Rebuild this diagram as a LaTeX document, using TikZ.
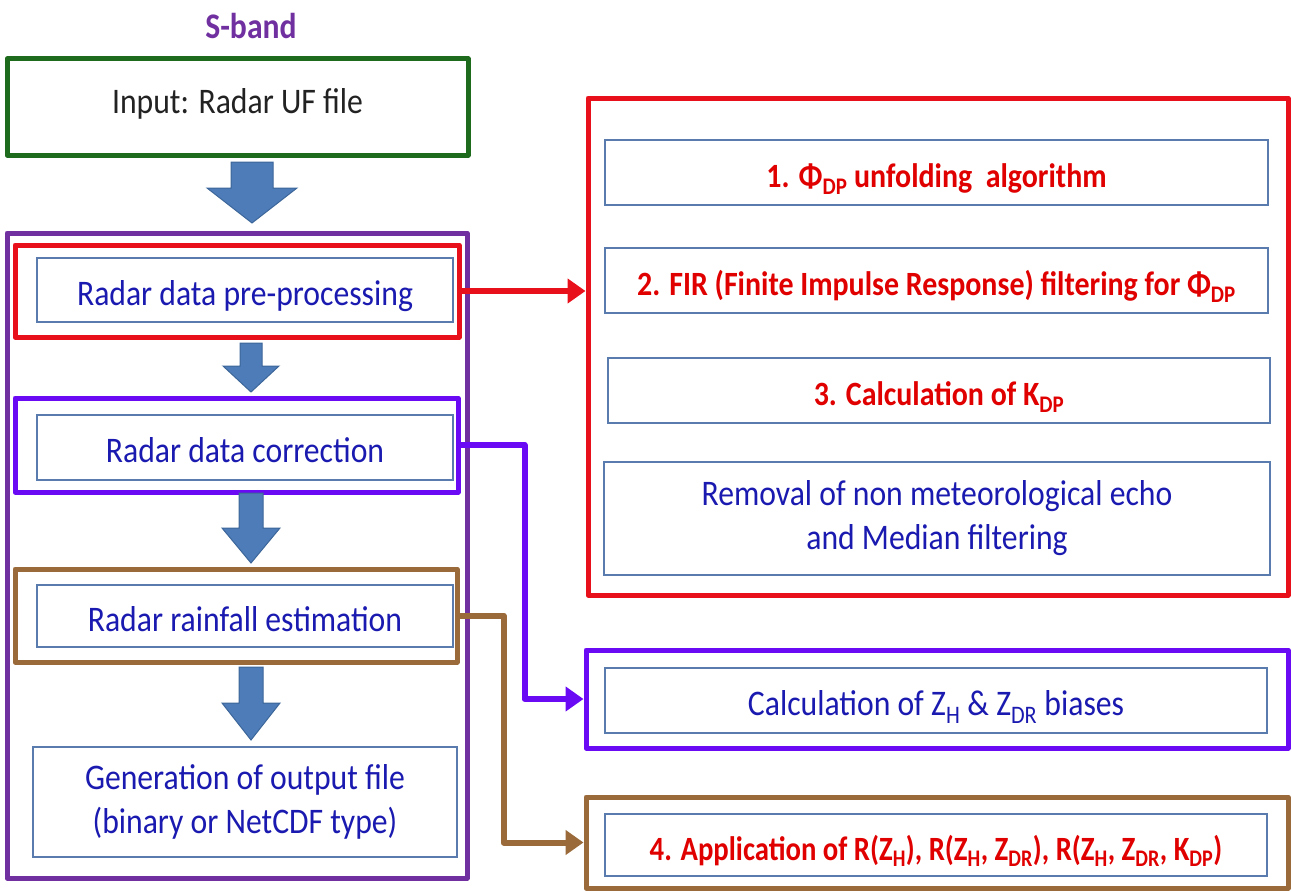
\documentclass[tikz,border=0pt]{standalone}
\usepackage{fontspec}
\setmainfont{Carlito}[FakeStretch=0.88]
\usetikzlibrary{arrows.meta}
\definecolor{cGreen}{HTML}{1E6B1E}
\definecolor{cPurple}{HTML}{7030A0}
\definecolor{cRed}{HTML}{E8101A}
\definecolor{cViolet}{HTML}{6A0AF5}
\definecolor{cBrown}{HTML}{9A6A3A}
\definecolor{cInner}{HTML}{5A7BAE}
\definecolor{cTextBlue}{HTML}{1A1AB0}
\definecolor{cTextRed}{HTML}{E00000}
\definecolor{cText}{HTML}{222222}
\definecolor{cArrow}{HTML}{4E7CB8}
\definecolor{cArrowEdge}{HTML}{3C6699}
\newcommand\blockarrow[6]{%
  \filldraw[barrow] (#1-#5,#2) -- (#1+#5,#2) -- (#1+#5,#3) -- (#1+#6,#3) -- (#1,#4) -- (#1-#6,#3) -- (#1-#5,#3) -- cycle;}
\begin{document}
\begin{tikzpicture}[x=1pt,y=-1pt,
  outerbox/.style={draw, line width=5pt, inner sep=0pt, line join=round},
  innerbox/.style={draw=cInner, line width=2.5pt, fill=white, inner sep=0pt, align=center},
  oneline/.style={text height=32pt, text depth=2pt},
  normtxt/.style={font=\fontsize{36}{44}\selectfont, text=cTextBlue},
  boldtxt/.style={font=\fontsize{34}{43}\selectfont\bfseries, text=cTextRed},
  barrow/.style={fill=cArrow, draw=cArrowEdge, line width=1pt, line join=miter},
  conn/.style={line width=6pt, -{Triangle[length=18pt,width=24pt]}, line join=round}]
\useasboundingbox (0,0) rectangle (1292,891);

% title and input
\node[font=\fontsize{36}{40}\selectfont\bfseries, text=cPurple] (sband) at (251,26) {S-band};
\node[outerbox, draw=cGreen, minimum width=461pt, minimum height=96pt,
      text height=20pt, text depth=8pt,
      font=\fontsize{36}{43}\selectfont, text=cText] (input) at (237.5,107) {Input: Radar UF file};

% left column
\node[outerbox, draw=cPurple, minimum width=460pt, minimum height=645pt] (proc) at (237,555.5) {};
\node[outerbox, draw=cRed, minimum width=444pt, minimum height=92pt] (preOut) at (237,291) {};
\node[innerbox, normtxt, oneline, minimum width=416pt, minimum height=64pt] (preIn) at (245,290) {Radar data pre-processing};
\node[outerbox, draw=cViolet, minimum width=443pt, minimum height=94pt] (corrOut) at (236.5,445) {};
\node[innerbox, normtxt, oneline, minimum width=416pt, minimum height=65pt] (corrIn) at (245,447.5) {Radar data correction};
\node[outerbox, draw=cBrown, minimum width=442pt, minimum height=93pt] (rainOut) at (236,615.5) {};
\node[innerbox, normtxt, oneline, minimum width=416pt, minimum height=62pt] (rainIn) at (245,616) {Radar rainfall estimation};
\node[innerbox, normtxt, minimum width=424pt, minimum height=110pt] (genIn) at (245,802) {Generation of output file\\(binary or NetCDF type)};

% block arrows
\blockarrow{252}{162}{188}{223}{21}{45}
\blockarrow{251}{343}{366}{392}{11}{28}
\blockarrow{251}{493}{528}{563}{12}{29}
\blockarrow{251}{667}{703}{740}{12}{29}

% right column
\node[outerbox, draw=cRed, minimum width=700pt, minimum height=497pt] (bigred) at (938,346.5) {};
\node[innerbox, boldtxt, oneline, minimum width=663pt, minimum height=65pt] (b1) at (936.5,172.5) {1. Φ\textsubscript{DP} unfolding\ \ algorithm};
\node[innerbox, boldtxt, oneline, minimum width=663pt, minimum height=65pt] (b2) at (936.5,280.5) {2. FIR (Finite Impulse Response) filtering for Φ\textsubscript{DP}};
\node[innerbox, boldtxt, oneline, minimum width=662pt, minimum height=65pt] (b3) at (939,390.5) {3. Calculation of K\textsubscript{DP}};
\node[innerbox, normtxt, minimum width=666pt, minimum height=113pt] (b4) at (937,518.5) {Removal of non meteorological echo\\and Median filtering};

\node[outerbox, draw=cViolet, minimum width=702pt, minimum height=98pt] (biasOut) at (937,699) {};
\node[innerbox, normtxt, oneline, minimum width=662pt, minimum height=65pt] (biasIn) at (936,700.5) {Calculation of Z\textsubscript{H} \& Z\textsubscript{DR} biases};
\node[outerbox, draw=cBrown, minimum width=702pt, minimum height=91pt] (appOut) at (937,842.5) {};
\node[innerbox, boldtxt, oneline, minimum width=662pt, minimum height=62pt] (appIn) at (936,845) {\scalebox{0.96}[1]{4. Application of R(Z\textsubscript{H}), R(Z\textsubscript{H}, Z\textsubscript{DR}), R(Z\textsubscript{H}, Z\textsubscript{DR}, K\textsubscript{DP})}};

% connectors
\draw[conn, draw=cRed] (preOut.east) -- (preOut.east -| bigred.west);
\draw[conn, draw=cViolet] (corrOut.east) -- ++(64,0) |- (biasOut.west);
\draw[conn, draw=cBrown] (rainOut.east) -- ++(44,0) |- (appOut.west);
\end{tikzpicture}
\end{document}
